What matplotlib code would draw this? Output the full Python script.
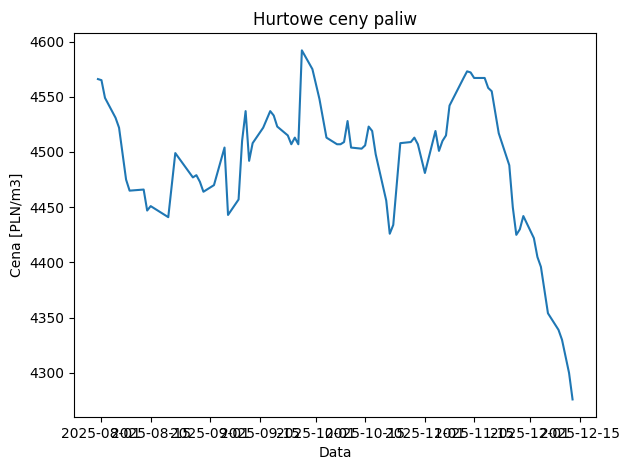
import matplotlib
matplotlib.use("Agg")
import matplotlib.pyplot as plt
import pandas as pd

# daty notowań
dates = [
    "2025-07-31", "2025-08-01", "2025-08-02", "2025-08-05", "2025-08-06",
    "2025-08-08", "2025-08-09", "2025-08-13", "2025-08-14", "2025-08-15",
    "2025-08-18", "2025-08-20", "2025-08-22", "2025-08-27", "2025-08-28",
    "2025-08-29", "2025-08-30", "2025-09-02", "2025-09-05", "2025-09-06",
    "2025-09-09", "2025-09-10", "2025-09-11", "2025-09-12", "2025-09-13",
    "2025-09-16", "2025-09-18", "2025-09-19", "2025-09-20", "2025-09-23",
    "2025-09-24", "2025-09-25", "2025-09-26", "2025-09-27", "2025-09-30",
    "2025-10-02", "2025-10-04", "2025-10-07", "2025-10-08", "2025-10-09",
    "2025-10-10", "2025-10-11", "2025-10-14", "2025-10-15", "2025-10-16",
    "2025-10-17", "2025-10-18", "2025-10-21", "2025-10-22", "2025-10-23",
    "2025-10-25", "2025-10-28", "2025-10-29", "2025-10-30", "2025-11-01",
    "2025-11-04", "2025-11-05", "2025-11-06", "2025-11-07", "2025-11-08",
    "2025-11-12", "2025-11-13", "2025-11-14", "2025-11-15", "2025-11-18",
    "2025-11-19", "2025-11-20", "2025-11-22", "2025-11-25", "2025-11-26",
    "2025-11-27", "2025-11-28", "2025-11-29", "2025-12-02", "2025-12-03",
    "2025-12-04", "2025-12-06", "2025-12-09", "2025-12-10", "2025-12-12",
    "2025-12-13",
]
# ceny [PLN/m3]
prices = [
    4566, 4565, 4549, 4531, 4522,
    4475, 4465, 4466, 4447, 4451,
    4445, 4441, 4499, 4477, 4479,
    4473, 4464, 4470, 4504, 4443,
    4457, 4510, 4537, 4492, 4508,
    4522, 4537, 4533, 4523, 4515,
    4507, 4513, 4507, 4592, 4575,
    4548, 4513, 4507, 4507, 4509,
    4528, 4504, 4503, 4506, 4523,
    4519, 4498, 4456, 4426, 4434,
    4508, 4509, 4513, 4507, 4481,
    4519, 4501, 4510, 4515, 4542,
    4567, 4573, 4572, 4567, 4567,
    4558, 4555, 4517, 4488, 4450,
    4425, 4430, 4442, 4422, 4405,
    4396, 4354, 4339, 4330, 4300,
    4276,
]

x = pd.to_datetime(dates)

fig, ax = plt.subplots(figsize=(6.29, 4.70), dpi=100)
ax.plot(x, prices)
ax.set(xlabel='Data', ylabel='Cena [PLN/m3]', title='Hurtowe ceny paliw')
fig.subplots_adjust(left=0.118, right=0.948, top=0.930, bottom=0.113)
fig.savefig("out.png")
